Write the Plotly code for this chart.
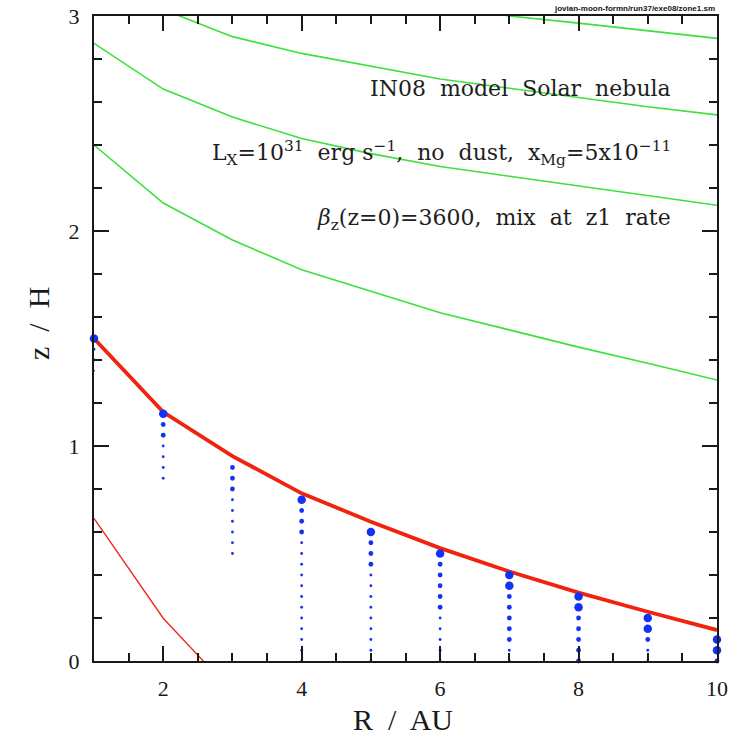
import plotly.graph_objects as go

# Radial grid (AU)
R = [1, 2, 3, 4, 5, 6, 7, 8, 9, 10]

# Green contours (z/H) sampled on the radial grid
green_a = [2.873, 2.66, 2.53, 2.43, 2.36, 2.30, 2.255, 2.21, 2.165, 2.12]
green_b = [2.40, 2.13, 1.958, 1.82, 1.72, 1.62, 1.54, 1.46, 1.385, 1.307]
green_c_R = [2, 3, 4, 5, 6, 7, 8, 9, 10]
green_c = [3.03, 2.904, 2.826, 2.765, 2.707, 2.664, 2.62, 2.578, 2.54]
green_d_R = [6, 7, 8, 9, 10]
green_d = [3.05, 3.0, 2.967, 2.932, 2.896]

# Red surfaces
red_thick = [1.50, 1.158, 0.953, 0.78, 0.648, 0.525, 0.416, 0.318, 0.229, 0.144]
red_thin_R = [1, 2, 3]
red_thin = [0.663, 0.199, -0.145]

# Blue sample points per radius: heights and weight class (0..3)
dots_z = {
    1: [1.50, 1.45, 1.40, 1.35],
    2: [1.15, 1.10, 1.05, 1.00, 0.95, 0.90, 0.85],
    3: [0.90, 0.85, 0.80, 0.75, 0.70, 0.65, 0.60, 0.55, 0.50],
    4: [0.75, 0.70, 0.65, 0.60, 0.55, 0.50, 0.45, 0.40, 0.35, 0.30, 0.25, 0.20, 0.15, 0.10, 0.05, 0.0],
    5: [0.60, 0.55, 0.50, 0.45, 0.40, 0.35, 0.30, 0.25, 0.20, 0.15, 0.10, 0.05, 0.0],
    6: [0.50, 0.45, 0.40, 0.35, 0.30, 0.25, 0.20, 0.15, 0.10, 0.05, 0.0],
    7: [0.40, 0.35, 0.30, 0.25, 0.20, 0.15, 0.10, 0.05, 0.0],
    8: [0.30, 0.25, 0.20, 0.15, 0.10, 0.05, 0.0],
    9: [0.20, 0.15, 0.10, 0.05, 0.0],
    10: [0.10, 0.05, 0.0],
}
dots_w = {
    1: [3, 1, 1, 0],
    2: [3, 2, 2, 1, 1, 1, 1],
    3: [2, 2, 2, 1, 1, 1, 1, 1, 1],
    4: [3, 2, 2, 2, 1, 1, 1, 1, 1, 1, 1, 1, 1, 1, 1, 1],
    5: [3, 2, 2, 2, 1, 1, 1, 1, 1, 1, 1, 1, 1],
    6: [3, 2, 2, 2, 2, 2, 1, 1, 1, 1, 1],
    7: [3, 3, 2, 2, 2, 2, 2, 1, 1],
    8: [3, 3, 2, 2, 2, 2, 2],
    9: [3, 3, 2, 1, 1],
    10: [3, 3, 2],
}

x_ticks = [2, 4, 6, 8, 10]
y_ticks = [0, 1, 2, 3]

GREEN = "rgb(60,225,60)"
RED = "rgb(240,35,15)"
BLUE = "rgb(20,50,245)"
INK = "rgb(25,25,25)"
size_of = {3: 8.5, 2: 4.8, 1: 2.8, 0: 1.8}

fig = go.Figure()

for xs, ys in [(R, green_a), (R, green_b), (green_c_R, green_c), (green_d_R, green_d)]:
    fig.add_trace(go.Scatter(x=xs, y=ys, mode="lines",
                             line=dict(color=GREEN, width=1.6), hoverinfo="skip"))

fig.add_trace(go.Scatter(x=red_thin_R, y=red_thin, mode="lines",
                         line=dict(color=RED, width=1.3), hoverinfo="skip"))
fig.add_trace(go.Scatter(x=R, y=red_thick, mode="lines",
                         line=dict(color=RED, width=3.8), hoverinfo="skip"))

px_, py_, ps_ = [], [], []
for r in R:
    for z, w in zip(dots_z[r], dots_w[r]):
        px_.append(r)
        py_.append(z)
        ps_.append(size_of[w])
fig.add_trace(go.Scatter(x=px_, y=py_, mode="markers", cliponaxis=False,
                         marker=dict(color=BLUE, size=ps_, opacity=1, line=dict(width=0)),
                         hoverinfo="skip"))

axis_common = dict(
    showgrid=False, zeroline=False, showline=True, linecolor=INK, linewidth=2,
    mirror="allticks", ticks="inside", ticklen=15, tickwidth=1.6, tickcolor=INK,
    automargin=False,
    tickfont=dict(family="Liberation Serif", size=22, color=INK),
)
fig.update_xaxes(range=[1, 10], tickmode="array", tickvals=x_ticks,
                 ticktext=[str(v) for v in x_ticks], ticklabelstandoff=7,
                 minor=dict(dtick=0.5, tick0=0, ticks="inside", ticklen=8,
                            tickwidth=1.6, tickcolor=INK, showgrid=False),
                 **axis_common)
fig.update_yaxes(range=[0, 3], tickmode="array", tickvals=y_ticks,
                 ticktext=[str(v) for v in y_ticks], ticklabelstandoff=8,
                 minor=dict(dtick=0.2, tick0=0, ticks="inside", ticklen=8,
                            tickwidth=1.6, tickcolor=INK, showgrid=False),
                 **axis_common)

gap = "\u00a0\u00a0"
label_font = dict(family="DejaVu Serif", size=22, color="rgb(30,30,30)")
notes = [
    ("IN08" + gap + "model" + gap + "Solar" + gap + "nebula", 0.888),
    ("L<sub>X</sub>=10<sup>31</sup>" + gap + "erg s<sup>\u22121</sup>," + gap + "no" + gap
     + "dust," + gap + "x<sub>Mg</sub>=5x10<sup>\u221211</sup>", 0.788),
    ("<i>\u03b2</i><sub>z</sub>(z=0)=3600," + gap + "mix" + gap + "at" + gap + "z1" + gap
     + "rate", 0.684),
]
for txt, yy in notes:
    fig.add_annotation(text=txt, xref="paper", yref="paper", x=0.93, y=yy,
                       xanchor="right", yanchor="middle", showarrow=False,
                       font=label_font)

sp = "\u00a0"
title_font = dict(family="Liberation Serif", size=30, color=INK)
fig.add_annotation(text="R" + sp + " /" + sp + " AU", xref="paper", yref="paper",
                   x=0.496, y=-0.09, xanchor="center", yanchor="middle",
                   showarrow=False, font=title_font)
fig.add_annotation(text="z" + sp + " /" + sp + " H", xref="paper", yref="paper",
                   x=-0.09, y=0.524, xanchor="center", yanchor="middle",
                   textangle=-90, showarrow=False, font=title_font)
fig.add_annotation(text="<b>jovian-moon-formn/run37/exe08/zone1.sm</b>",
                   xref="paper", yref="paper", x=1.0, y=1.011,
                   xanchor="right", yanchor="middle", showarrow=False,
                   font=dict(family="Liberation Sans", size=8, color="rgb(20,20,20)"))

fig.update_layout(
    width=735, height=739, showlegend=False,
    margin=dict(l=94, r=18, t=16, b=78, autoexpand=False),
    paper_bgcolor="white", plot_bgcolor="white",
)

fig.write_html("out.html")
